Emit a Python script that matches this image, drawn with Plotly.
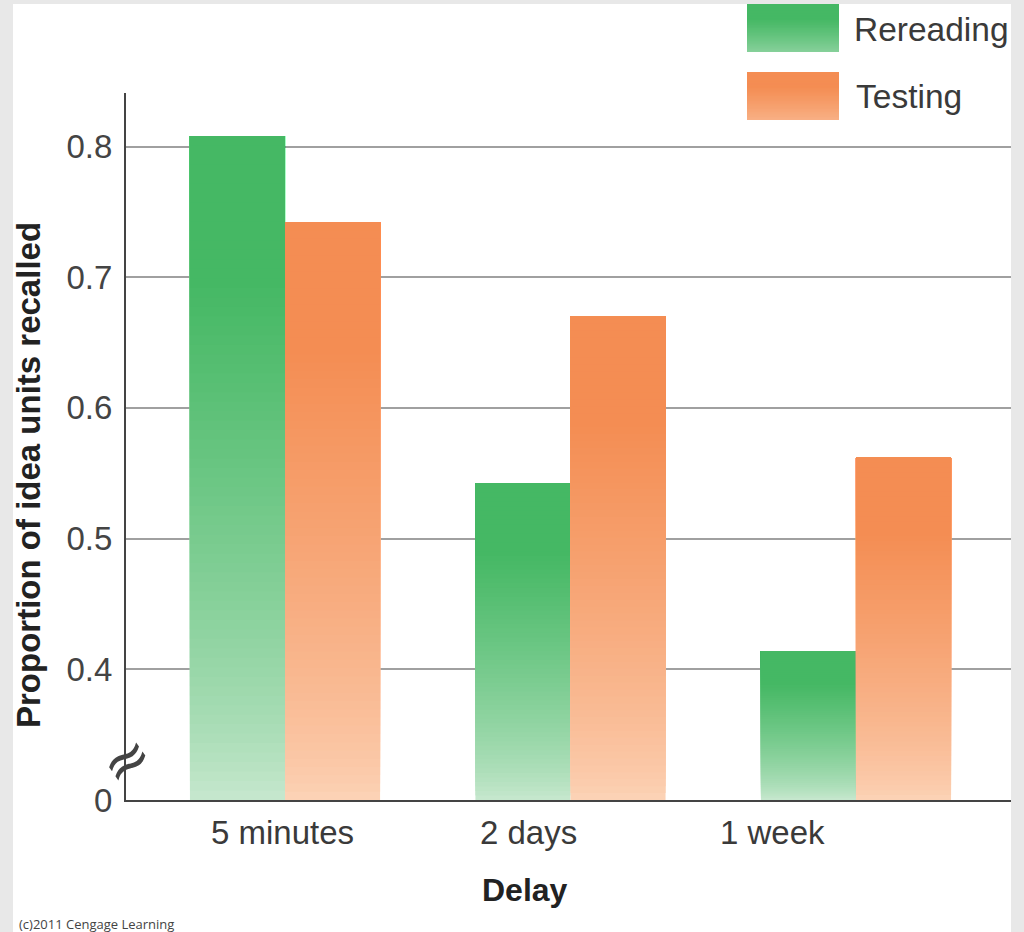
import plotly.graph_objects as go

# ---- data -------------------------------------------------------------
delays = ["5 minutes", "2 days", "1 week"]
rereading = [0.808, 0.542, 0.414]
testing = [0.742, 0.67, 0.562]
series_names = ["Rereading", "Testing"]
y_tick_values = [0.3, 0.4, 0.5, 0.6, 0.7, 0.8]
y_tick_labels = ["0", "0.4", "0.5", "0.6", "0.7", "0.8"]
axis_floor = 0.3  # the axis is broken: bars start here, labelled "0"

# ---- styling ------------------------------------------------------------
GREEN_TOP, GREEN_BOTTOM = (69, 184, 100), (202, 233, 209)
ORANGE_TOP, ORANGE_BOTTOM = (244, 141, 83), (252, 212, 184)
FONT = "Liberation Sans"
TEXT = "#3a3a3a"
N_SLICES = 70

W, H = 1024, 932
L, R, T, B = 126, 1011, 93, 800  # plot-area edges in pixels


def px_x(x):
    return (x - L) / (R - L)


def px_y(y):
    return (B - y) / (B - T)


def shade(top, bottom, t):
    """Colour at relative height t (0 = bar foot, 1 = bar top)."""
    s = min(1.0, max(0.0, t) / 0.78) ** 0.72
    return "rgb(%d,%d,%d)" % tuple(round(b + (a - b) * s) for a, b in zip(top, bottom))


fig = go.Figure()

# Gradient bars: each slice runs from its own start up to the bar top and
# later (higher) slices are painted over earlier ones, giving a seamless fade.
for name, values, top, bottom in [
    (series_names[0], rereading, GREEN_TOP, GREEN_BOTTOM),
    (series_names[1], testing, ORANGE_TOP, ORANGE_BOTTOM),
]:
    for k in range(N_SLICES):
        frac = k / N_SLICES
        bases = [axis_floor + (v - axis_floor) * frac for v in values]
        fig.add_trace(go.Bar(
            x=delays,
            y=[v - b for v, b in zip(values, bases)],
            base=bases,
            offsetgroup=name,
            name=name,
            marker=dict(color=shade(top, bottom, frac + 0.5 / N_SLICES), line=dict(width=0)),
            showlegend=False,
            hoverinfo="skip",
        ))

shapes = [
    # white card on the grey page
    dict(type="rect", xref="paper", yref="paper", layer="below",
         x0=px_x(13), x1=px_x(1011), y0=px_y(932), y1=px_y(4),
         fillcolor="white", line=dict(width=0)),
]

# legend swatches
M = 30
for (y_top, y_bot), top, bottom in [((4, 52), GREEN_TOP, GREEN_BOTTOM),
                                     ((72, 120), ORANGE_TOP, ORANGE_BOTTOM)]:
    for k in range(M):
        frac = k / M
        y0 = y_bot - (y_bot - y_top) * frac
        shapes.append(dict(
            type="rect", xref="paper", yref="paper", layer="above",
            x0=px_x(747), x1=px_x(839), y0=px_y(y0), y1=px_y(y_top),
            fillcolor=shade(top, bottom, 0.3 + 0.7 * (frac + 0.5 / M)),
            line=dict(width=0),
        ))

annotations = [
    dict(text=series_names[0], x=px_x(852), y=px_y(30), xanchor="left", yanchor="middle",
         font=dict(family=FONT, size=33.5, color=TEXT)),
    dict(text=series_names[1], x=px_x(854), y=px_y(97), xanchor="left", yanchor="middle",
         font=dict(family=FONT, size=33.5, color=TEXT)),
    dict(text="Delay", x=px_x(525), y=px_y(890), xanchor="center", yanchor="middle",
         font=dict(family=FONT, size=32, color="#222", weight="bold")),
    dict(text="Proportion of idea units recalled", x=px_x(28), y=px_y(475),
         xanchor="center", yanchor="middle", textangle=-90,
         font=dict(family=FONT, size=33, color="#222", weight="bold")),
    dict(text="(c)2011 Cengage Learning", x=px_x(17), y=px_y(924), xanchor="left",
         yanchor="middle", font=dict(family="Open Sans", size=13, color="#444")),
    # axis-break mark
    dict(text="≈", x=0, y=px_y(760), xanchor="center", yanchor="middle", textangle=-35,
         font=dict(family="DejaVu Sans", size=58, color="#444")),
]

# category labels under the groups
label_shift = [-3, -42, -83]
for cat, shift in zip(delays, label_shift):
    annotations.append(dict(
        text=cat, x=cat, xref="x", y=px_y(832), yref="paper", xshift=shift,
        xanchor="center", yanchor="middle",
        font=dict(family=FONT, size=33, color=TEXT),
    ))

for a in annotations:
    a.setdefault("xref", "paper")
    a.setdefault("yref", "paper")
    a["showarrow"] = False

fig.update_layout(
    width=W, height=H,
    margin=dict(l=L, r=W - R, t=T, b=H - B, pad=0),
    paper_bgcolor="#e8e8e8",
    plot_bgcolor="white",
    barmode="group",
    bargap=0.334,
    bargroupgap=0,
    showlegend=False,
    shapes=shapes,
    annotations=annotations,
    xaxis=dict(
        range=[-0.557, 2.543],
        showticklabels=False,
        showgrid=False,
        showline=True, linecolor="#444", linewidth=2,
        ticks="", zeroline=False,
    ),
    yaxis=dict(
        range=[axis_floor, axis_floor + (B - T) / 1307],
        tickvals=y_tick_values,
        ticktext=y_tick_labels,
        ticks="",
        ticklabelstandoff=5,
        tickfont=dict(family=FONT, size=33, color="#444"),
        showgrid=True, gridcolor="#a0a0a0", gridwidth=2,
        showline=True, linecolor="#444", linewidth=2,
        zeroline=False,
    ),
)

fig.write_html("out.html")
